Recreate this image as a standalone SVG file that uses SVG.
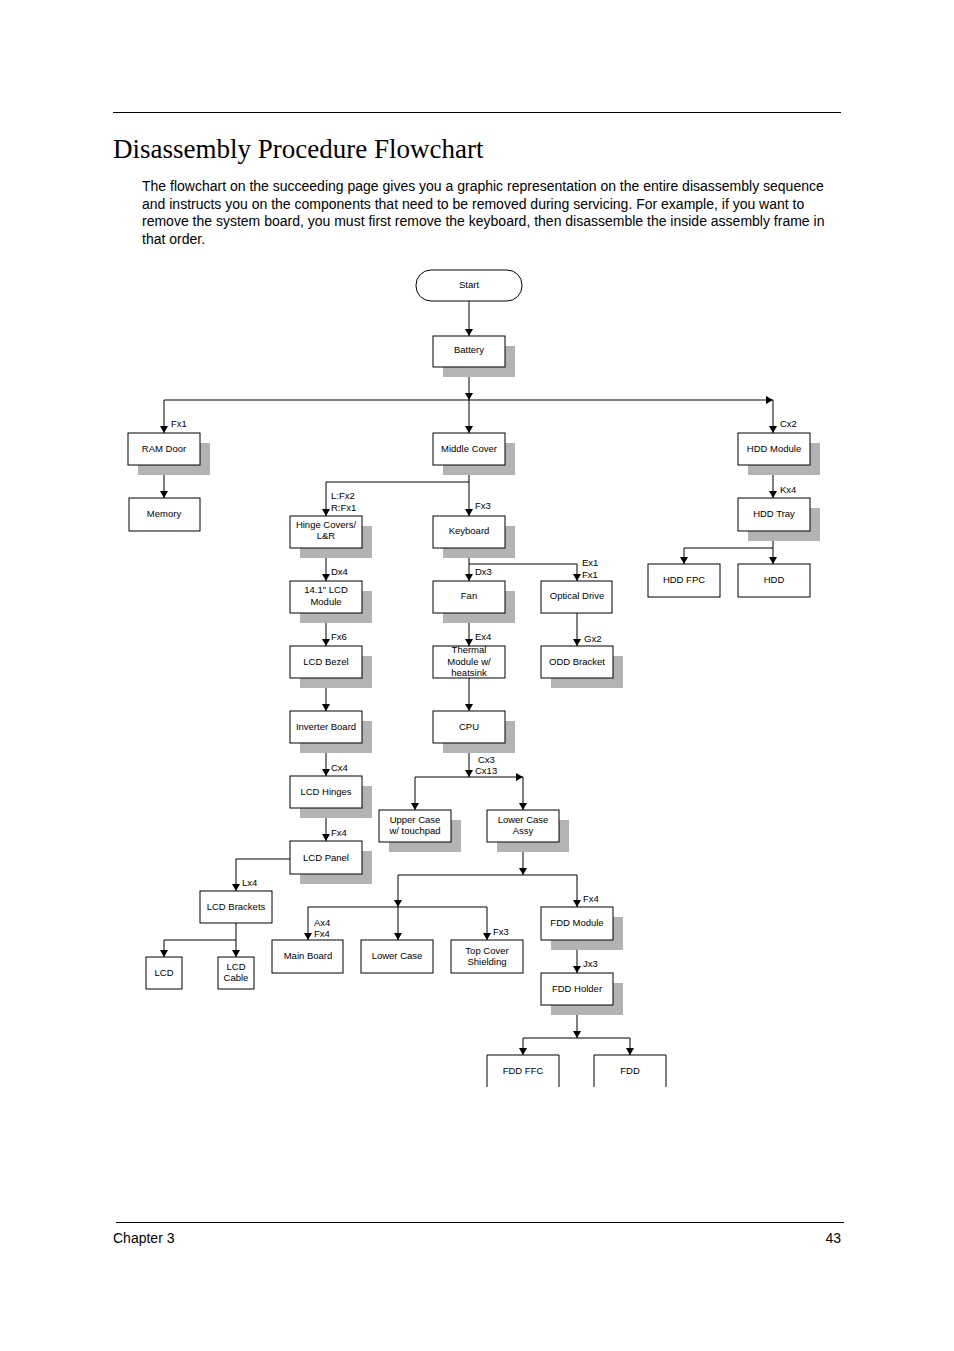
<svg xmlns="http://www.w3.org/2000/svg" width="954" height="1351" viewBox="0 0 954 1351">
<style>
.b{fill:#fff;stroke:#000;stroke-width:1}
.s{fill:#b3b3b3}
.t{font-family:"Liberation Sans",Arial,sans-serif;font-size:9.5px;text-anchor:middle;fill:#000}
.l{font-family:"Liberation Sans",Arial,sans-serif;font-size:9.5px;fill:#000}
.c{fill:none;stroke:#000;stroke-width:1}
.p{font-family:"Liberation Sans",Arial,sans-serif;font-size:14px;fill:#000}
</style>
<defs><marker id="a" markerWidth="8" markerHeight="10" refX="7" refY="5" orient="auto" markerUnits="userSpaceOnUse"><path d="M0,1 L7,5 L0,9 z" fill="#000"/></marker></defs>
<rect width="954" height="1351" fill="#fff"/>
<line x1="113" y1="112.5" x2="841" y2="112.5" stroke="#000"/>
<text x="113" y="158" font-family="'Liberation Serif',serif" font-size="27" fill="#000">Disassembly Procedure Flowchart</text>
<text class="p" x="142" y="191">The flowchart on the succeeding page gives you a graphic representation on the entire disassembly sequence</text>
<text class="p" x="142" y="209">and instructs you on the components that need to be removed during servicing.  For example, if you want to</text>
<text class="p" x="142" y="226">remove the system board, you must first remove the keyboard, then disassemble the inside assembly frame in</text>
<text class="p" x="142" y="244">that order.</text>
<line x1="116" y1="1222.5" x2="844" y2="1222.5" stroke="#000"/>
<text class="p" x="113" y="1243">Chapter 3</text>
<text class="p" x="841" y="1243" text-anchor="end">43</text>

<g id="connectors" marker-end="url(#a)">
<path class="c" d="M469,301V336" marker-end="url(#a)"/>
<path class="c" d="M469,367V400" marker-end="url(#a)"/>
<path class="c" d="M164,400H773"/>
<path class="c" d="M164,400V433" marker-end="url(#a)"/>
<path class="c" d="M469,400V433" marker-end="url(#a)"/>
<path class="c" d="M773,400V433" marker-end="url(#a)"/>
<path class="c" d="M164,465V498" marker-end="url(#a)"/>
<path class="c" d="M469,465V516" marker-end="url(#a)"/>
<path class="c" d="M469,482H326V516" marker-end="url(#a)"/>
<path class="c" d="M773,465V498" marker-end="url(#a)"/>
<path class="c" d="M773,531V564" marker-end="url(#a)"/>
<path class="c" d="M773,548H684V564" marker-end="url(#a)"/>
<path class="c" d="M469,548V581" marker-end="url(#a)"/>
<path class="c" d="M469,564H577V581" marker-end="url(#a)"/>
<path class="c" d="M469,613V646" marker-end="url(#a)"/>
<path class="c" d="M577,613V646" marker-end="url(#a)"/>
<path class="c" d="M469,678V711" marker-end="url(#a)"/>
<path class="c" d="M469,743V777" marker-end="url(#a)"/>
<path class="c" d="M415,777H523"/>
<path class="c" d="M415,777V810" marker-end="url(#a)"/>
<path class="c" d="M523,777V810" marker-end="url(#a)"/>
<path class="c" d="M523,842V875" marker-end="url(#a)"/>
<path class="c" d="M398,875H577V907" marker-end="url(#a)"/>
<path class="c" d="M398,875V907" marker-end="url(#a)"/>
<path class="c" d="M308,907H487V940" marker-end="url(#a)"/>
<path class="c" d="M308,907V940" marker-end="url(#a)"/>
<path class="c" d="M398,907V940" marker-end="url(#a)"/>
<path class="c" d="M577,940V973" marker-end="url(#a)"/>
<path class="c" d="M577,1005V1038" marker-end="url(#a)"/>
<path class="c" d="M523,1038H630V1055" marker-end="url(#a)"/>
<path class="c" d="M523,1038V1055" marker-end="url(#a)"/>
<path class="c" d="M326,548V581" marker-end="url(#a)"/>
<path class="c" d="M326,613V646" marker-end="url(#a)"/>
<path class="c" d="M326,678V711" marker-end="url(#a)"/>
<path class="c" d="M326,743V776" marker-end="url(#a)"/>
<path class="c" d="M326,808V841" marker-end="url(#a)"/>
<path class="c" d="M290,859H236V891" marker-end="url(#a)"/>
<path class="c" d="M236,923V957" marker-end="url(#a)"/>
<path class="c" d="M236,940H164V957" marker-end="url(#a)"/>
<text class="l" x="171" y="427">Fx1</text>
<text class="l" x="780" y="427">Cx2</text>
<text class="l" x="475" y="509">Fx3</text>
<text class="l" x="331" y="499">L:Fx2</text>
<text class="l" x="331" y="511">R:Fx1</text>
<text class="l" x="780" y="493">Kx4</text>
<text class="l" x="331" y="575">Dx4</text>
<text class="l" x="475" y="575">Dx3</text>
<text class="l" x="582" y="566">Ex1</text>
<text class="l" x="582" y="578">Fx1</text>
<text class="l" x="331" y="640">Fx6</text>
<text class="l" x="475" y="640">Ex4</text>
<text class="l" x="584" y="642">Gx2</text>
<text class="l" x="478" y="752">Dx1</text>
<text class="l" x="478" y="763">Cx3</text>
<text class="l" x="475" y="774">Cx13</text>
<text class="l" x="331" y="771">Cx4</text>
<text class="l" x="331" y="836">Fx4</text>
<text class="l" x="242" y="886">Lx4</text>
<text class="l" x="583" y="902">Fx4</text>
<text class="l" x="314" y="926">Ax4</text>
<text class="l" x="314" y="937">Fx4</text>
<text class="l" x="493" y="935">Fx3</text>
<text class="l" x="583" y="967">Jx3</text>
</g>

<g id="start"><rect class="b" x="416" y="270" width="106" height="31" rx="15"/><text class="t" x="469" y="288">Start</text></g>
<g id="battery"><rect class="s" x="443" y="346" width="72" height="31"/><rect class="b" x="433" y="336" width="72" height="31"/><text class="t" x="469" y="353">Battery</text></g>
<g id="ramdoor"><rect class="s" x="138" y="443" width="72" height="32"/><rect class="b" x="128" y="433" width="72" height="32"/><text class="t" x="164" y="452">RAM Door</text></g>
<g id="middlecover"><rect class="s" x="443" y="443" width="72" height="32"/><rect class="b" x="433" y="433" width="72" height="32"/><text class="t" x="469" y="452">Middle Cover</text></g>
<g id="hddmodule"><rect class="s" x="748" y="443" width="72" height="32"/><rect class="b" x="738" y="433" width="72" height="32"/><text class="t" x="774" y="452">HDD Module</text></g>
<g id="memory"><rect class="b" x="129" y="498" width="71" height="33"/><text class="t" x="164" y="517">Memory</text></g>
<g id="hingecovers"><rect class="s" x="300" y="526" width="72" height="32"/><rect class="b" x="290" y="516" width="72" height="32"/><text class="t" x="326" y="528">Hinge Covers/</text><text class="t" x="326" y="539">L&amp;R</text></g>
<g id="keyboard"><rect class="s" x="443" y="526" width="72" height="32"/><rect class="b" x="433" y="516" width="72" height="32"/><text class="t" x="469" y="534">Keyboard</text></g>
<g id="hddtray"><rect class="s" x="748" y="508" width="72" height="33"/><rect class="b" x="738" y="498" width="72" height="33"/><text class="t" x="774" y="517">HDD Tray</text></g>
<g id="hddfpc"><rect class="b" x="648" y="564" width="72" height="33"/><text class="t" x="684" y="583">HDD FPC</text></g>
<g id="hdd"><rect class="b" x="738" y="564" width="72" height="33"/><text class="t" x="774" y="583">HDD</text></g>
<g id="lcdmodule"><rect class="s" x="300" y="591" width="72" height="32"/><rect class="b" x="290" y="581" width="72" height="32"/><text class="t" x="326" y="593">14.1" LCD</text><text class="t" x="326" y="605">Module</text></g>
<g id="fan"><rect class="s" x="443" y="591" width="72" height="32"/><rect class="b" x="433" y="581" width="72" height="32"/><text class="t" x="469" y="599">Fan</text></g>
<g id="opticaldrive"><rect class="b" x="541" y="581" width="71" height="32"/><text class="t" x="577" y="599">Optical Drive</text></g>
<g id="lcdbezel"><rect class="s" x="300" y="656" width="72" height="32"/><rect class="b" x="290" y="646" width="72" height="32"/><text class="t" x="326" y="665">LCD Bezel</text></g>
<g id="thermal"><rect class="b" x="433" y="646" width="72" height="32"/><text class="t" x="469" y="653">Thermal</text><text class="t" x="469" y="665">Module w/</text><text class="t" x="469" y="676">heatsink</text></g>
<g id="oddbracket"><rect class="s" x="551" y="656" width="72" height="32"/><rect class="b" x="541" y="646" width="72" height="32"/><text class="t" x="577" y="665">ODD Bracket</text></g>
<g id="inverter"><rect class="s" x="300" y="721" width="72" height="32"/><rect class="b" x="290" y="711" width="72" height="32"/><text class="t" x="326" y="730">Inverter Board</text></g>
<g id="cpu"><rect class="s" x="443" y="721" width="72" height="32"/><rect class="b" x="433" y="711" width="72" height="32"/><text class="t" x="469" y="730">CPU</text></g>
<g id="lcdhinges"><rect class="s" x="300" y="786" width="72" height="32"/><rect class="b" x="290" y="776" width="72" height="32"/><text class="t" x="326" y="795">LCD Hinges</text></g>
<g id="uppercase"><rect class="s" x="389" y="820" width="72" height="32"/><rect class="b" x="379" y="810" width="72" height="32"/><text class="t" x="415" y="823">Upper Case</text><text class="t" x="415" y="834">w/ touchpad</text></g>
<g id="lowercaseassy"><rect class="s" x="497" y="820" width="72" height="32"/><rect class="b" x="487" y="810" width="72" height="32"/><text class="t" x="523" y="823">Lower Case</text><text class="t" x="523" y="834">Assy</text></g>
<g id="lcdpanel"><rect class="s" x="300" y="851" width="72" height="33"/><rect class="b" x="290" y="841" width="72" height="33"/><text class="t" x="326" y="861">LCD Panel</text></g>
<g id="lcdbrackets"><rect class="b" x="200" y="891" width="72" height="32"/><text class="t" x="236" y="910">LCD Brackets</text></g>
<g id="lcd"><rect class="b" x="146" y="957" width="36" height="32"/><text class="t" x="164" y="976">LCD</text></g>
<g id="lcdcable"><rect class="b" x="218" y="957" width="36" height="32"/><text class="t" x="236" y="970">LCD</text><text class="t" x="236" y="981">Cable</text></g>
<g id="mainboard"><rect class="b" x="272" y="940" width="71" height="33"/><text class="t" x="308" y="959">Main Board</text></g>
<g id="lowercase"><rect class="b" x="361" y="940" width="72" height="33"/><text class="t" x="397" y="959">Lower Case</text></g>
<g id="topcover"><rect class="b" x="451" y="940" width="72" height="33"/><text class="t" x="487" y="954">Top Cover</text><text class="t" x="487" y="965">Shielding</text></g>
<g id="fddmodule"><rect class="s" x="551" y="917" width="72" height="33"/><rect class="b" x="541" y="907" width="72" height="33"/><text class="t" x="577" y="926">FDD Module</text></g>
<g id="fddholder"><rect class="s" x="551" y="983" width="72" height="32"/><rect class="b" x="541" y="973" width="72" height="32"/><text class="t" x="577" y="992">FDD Holder</text></g>
<g id="fddffc"><path class="c" d="M487,1087V1055H559V1087"/><text class="t" x="523" y="1074">FDD FFC</text></g>
<g id="fdd"><path class="c" d="M594,1087V1055H666V1087"/><text class="t" x="630" y="1074">FDD</text></g>
</svg>
